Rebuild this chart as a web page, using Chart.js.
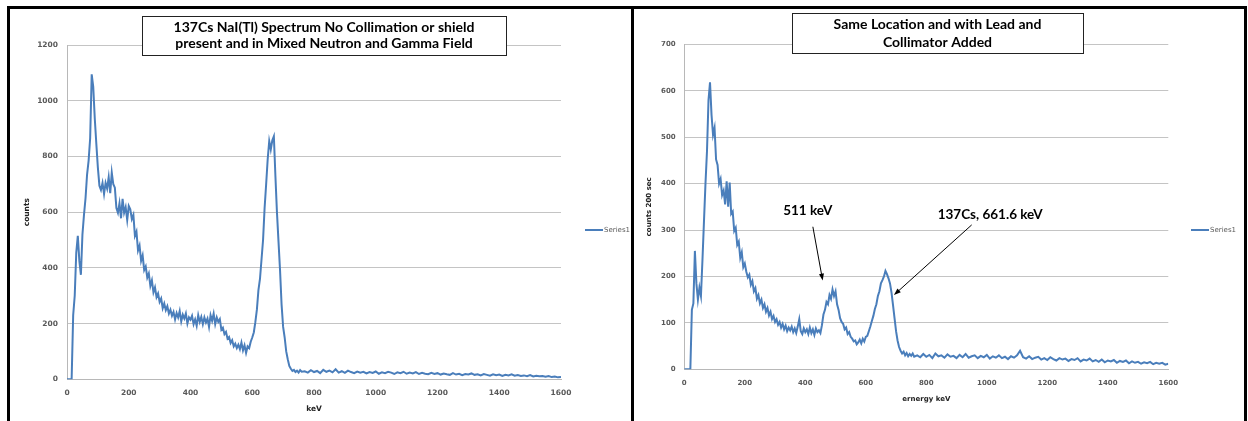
<!DOCTYPE html>
<html>
<head>
<meta charset="utf-8">
<script src="https://cdn.jsdelivr.net/npm/chart.js@4.4.0/dist/chart.umd.min.js"></script>
<style>
  html, body { margin: 0; padding: 0; background: #fff; }
  body { position: relative; width: 1248px; height: 421px; overflow: hidden; }
  .panel { position: absolute; top: 6px; height: 440px; border: 3px solid #000; box-sizing: border-box; }
  #panelLeft { left: 7px; width: 627px; }
  #panelRight { left: 631px; width: 616px; }
  canvas { position: absolute; top: 9px; }
  #leftChart { left: 10px; }
  #rightChart { left: 634px; }
</style>
</head>
<body>
<div class="panel" id="panelLeft"></div>
<div class="panel" id="panelRight"></div>
<canvas id="leftChart" width="621" height="412"></canvas>
<canvas id="rightChart" width="610" height="412"></canvas>
<script>
// energy channels shared by both spectra (keV)
const energyKeV = [
  0, 5, 10, 15, 20, 25, 30, 35, 40, 45, 50, 55, 60, 65, 70, 75, 80, 85, 90, 95,
  100, 105, 110, 115, 120, 125, 130, 135, 140, 145, 150, 155, 160, 165, 170, 175, 180, 185, 190, 195, 200,
  205, 210, 215, 220, 225, 230, 235, 240, 245, 250,
  255, 260, 265, 270, 275, 280, 285, 290, 295, 300,
  305, 310, 315, 320, 325, 330, 335, 340, 345, 350,
  355, 360, 365, 370, 375, 380, 385, 390, 395, 400,
  405, 410, 415, 420, 425, 430, 435, 440, 445, 450,
  455, 460, 465, 470, 475, 480, 485, 490, 495, 500,
  505, 510, 515, 520, 525, 530, 535, 540, 545, 550,
  555, 560, 565, 570, 575, 580, 585, 590, 595, 600,
  605, 610, 615, 620, 625, 630, 635, 640, 645, 650,
  655, 660, 665, 670, 675, 680, 685, 690, 695, 700,
  705, 710, 715, 720, 725, 730, 735, 740, 745, 750, 755, 760,
  770, 780, 790, 800, 810, 820, 830, 840, 850, 860,
  870, 880, 890, 900, 910, 920, 930, 940, 950, 960,
  970, 980, 990, 1000, 1010, 1020, 1030, 1040, 1050, 1060,
  1070, 1080, 1090, 1100, 1110, 1120, 1130, 1140, 1150, 1160,
  1170, 1180, 1190, 1200, 1210, 1220, 1230, 1240, 1250, 1260,
  1270, 1280, 1290, 1300, 1310, 1320, 1330, 1340, 1350, 1360,
  1370, 1380, 1390, 1400, 1410, 1420, 1430, 1440, 1450, 1460,
  1470, 1480, 1490, 1500, 1510, 1520, 1530, 1540, 1550, 1560,
  1570, 1580, 1590, 1600
];

// no collimation / no shield (counts)
const openCounts = [
  0, 0, 0, 0, 230, 300, 455, 515, 425, 375, 520, 590, 650, 735, 785, 865, 1095, 1050, 935, 845,
  760, 695, 680, 705, 665, 705, 685, 725, 668, 742, 700, 688, 615, 598, 632, 578, 648, 598, 618, 572, 622,
  610, 575, 590, 515, 530, 462, 480, 425, 445, 392,
  405, 365, 380, 335, 355, 312, 330, 295, 308, 278,
  290, 255, 272, 248, 262, 236, 250, 228, 242, 215,
  238, 222, 245, 208, 232, 218, 236, 200, 222, 214,
  228, 198, 215, 192, 230, 206, 224, 198, 222, 204,
  218, 188, 230, 210, 236, 198, 222, 206, 216, 178,
  185, 162, 170, 146, 152, 130, 140, 118, 128, 112,
  124, 108, 132, 104, 122, 95, 118, 112, 135, 150,
  168, 205, 250, 320, 360, 430, 500, 615, 700, 790,
  855, 825, 858, 872, 730, 600, 495, 392, 268, 188,
  150, 100, 72, 48, 38, 30, 34, 26, 31, 24, 33, 27,
  29, 24, 33, 26, 30, 22, 34, 27, 31, 25,
  36, 24, 29, 23, 31, 26, 22, 28, 24, 27,
  21, 26, 23, 28, 20, 25, 22, 27, 24, 19,
  25, 22, 27, 20, 24, 21, 26, 19, 23, 20,
  18, 23, 19, 22, 17, 21, 18, 16, 22, 17,
  20, 15, 19, 17, 21, 16, 18, 14, 19, 16,
  13, 18, 15, 17, 12, 16, 14, 18, 13, 15,
  12, 14, 11, 15, 10, 13, 11, 12, 9, 12,
  8, 10, 7, 8
];

// lead + collimator (counts / 200 sec)
const shieldCounts = [
  0, 0, 0, 0, 0, 128, 142, 255, 185, 150, 176, 158, 235, 318, 400, 470, 580, 618, 548, 505,
  520, 452, 440, 400, 410, 375, 385, 355, 405, 350, 402, 335, 340, 298, 305, 268, 275, 240, 252, 220, 228,
  210, 198, 204, 182, 190, 168, 175, 152, 160, 142,
  150, 132, 140, 124, 132, 116, 124, 108, 115, 102,
  108, 96, 102, 90, 98, 86, 94, 82, 90, 84,
  92, 80, 88, 78, 92, 108, 82, 76, 88, 80,
  86, 76, 90, 78, 86, 74, 88, 80, 84, 78,
  95, 118, 128, 145, 140, 160, 152, 172, 158, 168,
  140, 128, 110, 102, 98, 86, 90, 76, 80, 70,
  66, 60, 62, 54, 58, 64, 56, 66, 60, 70,
  72, 82, 92, 104, 115, 130, 140, 158, 168, 185,
  192, 200, 212, 205, 196, 185, 165, 138, 110, 82,
  62, 48, 40, 34, 38, 30, 35, 28, 33, 29, 34, 27,
  30, 26, 33, 27, 31, 24, 34, 28, 30, 25,
  32, 27, 29, 24, 31, 26, 33, 25, 28, 30,
  24, 29, 26, 31, 23, 28, 25, 30, 24, 27,
  22, 28, 25, 30, 40, 26, 23, 28, 22, 25,
  27, 21, 24, 20, 26, 22, 19, 24, 21, 23,
  18, 22, 20, 24, 17, 21, 19, 23, 17, 20,
  16, 21, 15, 19, 17, 20, 14, 18, 16, 19,
  13, 17, 14, 16, 12, 15, 13, 16, 11, 14,
  12, 14, 10, 12
];

const leftTitle = ['137Cs NaI(Tl) Spectrum No Collimation or shield', 'present and in Mixed Neutron and Gamma Field'];
const rightTitle = ['Same Location and with Lead and', 'Collimator Added'];
const seriesName = 'Series1';

// annotation labels for the shielded spectrum: text + arrow (keV, counts)
const noteLabels = ['511 keV', '137Cs, 661.6 keV'];
const noteTextAt = [[408, 342], [1011, 334]];
const noteArrowFrom = [[425, 307], [950, 311]];
const noteArrowTo = [[457.5, 191], [693, 160]];

const lineBlue = '#4a7ebb';

// title box, legend and arrows
const panelDecor = {
  id: 'panelDecor',
  afterDraw(chart, args, opts) {
    const ctx = chart.ctx;
    const xs = chart.scales.x, ys = chart.scales.y;
    ctx.save();

    const b = opts.box;
    ctx.fillStyle = '#fff';
    ctx.fillRect(b.x, b.y, b.w, b.h);
    ctx.strokeStyle = '#222';
    ctx.lineWidth = 1;
    ctx.strokeRect(b.x + 0.5, b.y + 0.5, b.w, b.h);
    ctx.fillStyle = '#000';
    ctx.font = 'bold 14px Lato';
    ctx.textAlign = 'center';
    ctx.textBaseline = 'middle';
    opts.lines.forEach((t, i) => ctx.fillText(t, b.x + b.w / 2, b.y + opts.lineY[i]));

    // legend
    const lg = opts.legend;
    ctx.strokeStyle = lineBlue;
    ctx.lineWidth = 2;
    ctx.beginPath();
    ctx.moveTo(lg.x, lg.y);
    ctx.lineTo(lg.x + 18, lg.y);
    ctx.stroke();
    ctx.fillStyle = '#595959';
    ctx.font = '7px "DejaVu Sans"';
    ctx.textAlign = 'left';
    ctx.fillText(seriesName, lg.x + 19, lg.y);

    if (opts.notes) {
      ctx.font = 'bold 13.5px Lato';
      ctx.textAlign = 'center';
      ctx.fillStyle = '#000';
      ctx.strokeStyle = '#000';
      ctx.lineWidth = 1;
      noteLabels.forEach((label, i) => {
        ctx.fillText(label, xs.getPixelForValue(noteTextAt[i][0]), ys.getPixelForValue(noteTextAt[i][1]));
        const x0 = xs.getPixelForValue(noteArrowFrom[i][0]), y0 = ys.getPixelForValue(noteArrowFrom[i][1]);
        const x1 = xs.getPixelForValue(noteArrowTo[i][0]), y1 = ys.getPixelForValue(noteArrowTo[i][1]);
        const a = Math.atan2(y1 - y0, x1 - x0);
        ctx.beginPath();
        ctx.moveTo(x0, y0);
        ctx.lineTo(x1 - 5 * Math.cos(a), y1 - 5 * Math.sin(a));
        ctx.stroke();
        ctx.beginPath();
        ctx.moveTo(x1, y1);
        ctx.lineTo(x1 - 7 * Math.cos(a) + 2.5 * Math.sin(a), y1 - 7 * Math.sin(a) - 2.5 * Math.cos(a));
        ctx.lineTo(x1 - 7 * Math.cos(a) - 2.5 * Math.sin(a), y1 - 7 * Math.sin(a) + 2.5 * Math.cos(a));
        ctx.closePath();
        ctx.fill();
      });
    }
    ctx.restore();
  }
};

function makeChart(id, counts, cfg) {
  return new Chart(document.getElementById(id), {
    type: 'line',
    data: {
      labels: energyKeV,
      datasets: [{
        label: seriesName,
        data: energyKeV.map((e, i) => ({ x: e, y: counts[i] })),
        borderColor: lineBlue,
        borderWidth: 2,
        pointRadius: 0,
        tension: 0,
        fill: false
      }]
    },
    plugins: [panelDecor],
    options: {
      responsive: false,
      animation: false,
      devicePixelRatio: 1,
      layout: { padding: cfg.padding },
      plugins: {
        legend: { display: false },
        tooltip: { enabled: false },
        panelDecor: cfg.decor
      },
      scales: {
        x: {
          type: 'linear',
          min: 0,
          max: 1600,
          afterFit(scale) { scale.height = cfg.xHeight; },
          grid: { display: false, drawTicks: false },
          border: { display: true, color: '#b8b8b8' },
          ticks: {
            stepSize: 200, autoSkip: false, maxRotation: 0,
            padding: cfg.xPad,
            color: '#595959',
            callback: (v) => String(v),
            font: { family: 'DejaVu Sans', size: cfg.tickSize, weight: 'bold' }
          },
          title: {
            display: true, text: cfg.xTitle, color: '#222', padding: 0,
            font: { family: 'DejaVu Sans', size: cfg.titleSize, weight: 'bold' }
          }
        },
        y: {
          min: 0,
          max: cfg.yMax,
          afterFit(scale) { scale.width = cfg.yWidth; },
          grid: { color: '#c4c4c4', lineWidth: 1, drawTicks: false },
          border: { display: true, color: '#b8b8b8' },
          ticks: {
            stepSize: cfg.yStep,
            padding: cfg.yPad,
            color: '#595959',
            callback: (v) => String(v),
            font: { family: 'DejaVu Sans', size: cfg.tickSize, weight: 'bold' }
          },
          title: {
            display: true, text: cfg.yTitle, color: '#222', padding: { top: cfg.yTitlePad, bottom: 0 },
            font: { family: 'DejaVu Sans', size: cfg.titleSize, weight: 'bold' }
          }
        }
      }
    }
  });
}

makeChart('leftChart', openCounts, {
  padding: { left: 5, right: 70, top: 36, bottom: 7.2 },
  yWidth: 52, xHeight: 34.5, yPad: 9, xPad: 9, yTitlePad: 8,
  yMax: 1200, yStep: 200, tickSize: 7.5, titleSize: 7.5,
  xTitle: 'keV', yTitle: 'counts',
  decor: {
    box: { x: 132, y: 7, w: 364, h: 39 },
    lines: leftTitle, lineY: [11, 27],
    legend: { x: 575, y: 221 },
    notes: false
  }
});

makeChart('rightChart', shieldCounts, {
  padding: { left: 3, right: 75.7, top: 35.3, bottom: 17.2 },
  yWidth: 47.3, xHeight: 34.5, yPad: 8.6, xPad: 9.2, yTitlePad: 8,
  yMax: 700, yStep: 100, tickSize: 7, titleSize: 7,
  xTitle: 'ernergy keV', yTitle: 'counts 200 sec',
  decor: {
    box: { x: 158, y: 4, w: 291, h: 40 },
    lines: rightTitle, lineY: [11, 29],
    legend: { x: 557, y: 221 },
    notes: true
  }
});
</script>
</body>
</html>
